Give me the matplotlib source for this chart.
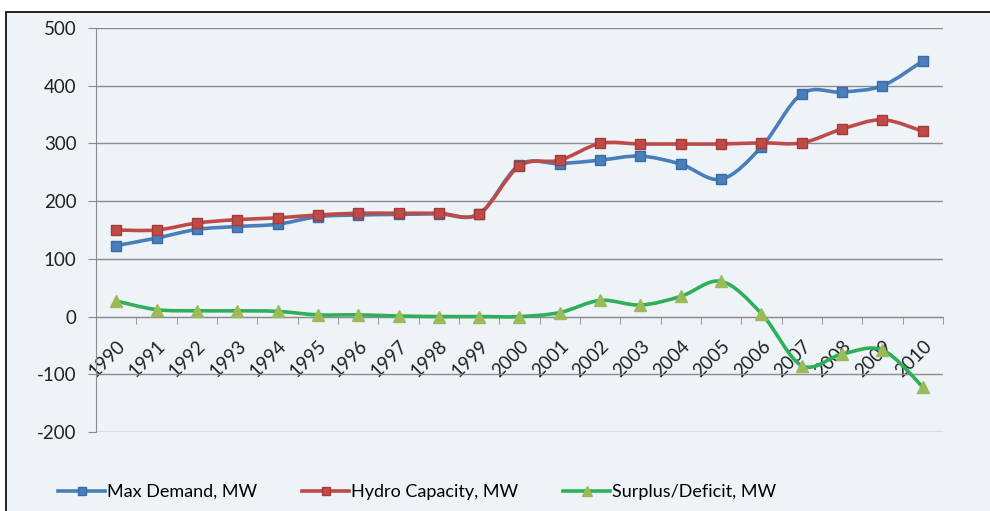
import numpy as np
import matplotlib
matplotlib.use("Agg")
import matplotlib.pyplot as plt
from matplotlib.path import Path
from matplotlib.patches import PathPatch, Rectangle
from matplotlib.lines import Line2D

plt.rcParams['font.family'] = ['Lato', 'DejaVu Sans']
plt.rcParams['font.size'] = 13
plt.rcParams['axes.unicode_minus'] = False

years = [str(y) for y in range(1990, 2011)]
max_demand = [123, 136, 151, 156, 160, 173, 176, 177, 178, 178, 263,
              265, 271, 278, 264, 238, 294, 386, 389, 400, 443]
hydro_capacity = [150, 150, 162, 168, 171, 176, 179, 179, 179, 178, 261,
                  271, 300, 299, 299, 299, 301, 301, 325, 341, 321]
surplus_deficit = [27, 12, 10, 10, 9, 3, 3, 1, 0, 0, 0,
                   7, 28, 20, 35, 61, 5, -85, -65, -58, -122]

blue = "#4A7EBB"
red = "#BE4B48"
green = "#2EAF5A"
green_mk = "#9BBB59"


def smooth_path(x, y):
    # Excel-like smoothed line: Catmull-Rom converted to cubic Bezier
    x = np.asarray(x, float)
    y = np.asarray(y, float)
    pts = np.column_stack([x, y])
    n = len(pts)
    verts = [pts[0]]
    codes = [Path.MOVETO]
    for i in range(n - 1):
        p0 = pts[i - 1] if i > 0 else pts[i]
        p1 = pts[i]
        p2 = pts[i + 1]
        p3 = pts[i + 2] if i + 2 < n else pts[i + 1]
        c1 = p1 + (p2 - p0) / 6.0
        c2 = p2 - (p3 - p1) / 6.0
        verts += [c1, c2, p2]
        codes += [Path.CURVE4] * 3
    return Path(verts, codes)


fig = plt.figure(figsize=(9.9, 5.11), dpi=100)
fig.patch.set_facecolor("white")
fig.add_artist(Rectangle((6 / 990, -0.01), 1.0, 1 - 12 / 511 + 0.01,
                         transform=fig.transFigure, facecolor="#EEF3F8",
                         edgecolor="black", linewidth=1.2, zorder=0))

ax = fig.add_axes([96 / 990, 1 - 432 / 511, (943 - 96) / 990, (432 - 28) / 511])
ax.set_facecolor("none")

x = np.arange(len(years))
series = [
    (max_demand, blue, "s", blue, "#3A6BA5", 6.5, "Max Demand, MW"),
    (hydro_capacity, red, "s", red, "#A53A38", 6.5, "Hydro Capacity, MW"),
    (surplus_deficit, green, "^", green_mk, green_mk, 8.5, "Surplus/Deficit, MW"),
]
handles = []
for vals, lc, mk, mfc, mec, ms, label in series:
    ax.add_patch(PathPatch(smooth_path(x, vals), facecolor="none",
                           edgecolor=lc, linewidth=2.6, zorder=3,
                           capstyle="round", joinstyle="round"))
    ax.plot(x, vals, linestyle="none", marker=mk, markersize=ms,
            markerfacecolor=mfc, markeredgecolor=mec, zorder=4)
    handles.append(Line2D([], [], color=lc, linewidth=2.6, marker=mk,
                          markersize=ms - 1, markerfacecolor=mfc,
                          markeredgecolor=mec, label=label))

ax.set_xlim(-0.5, len(years) - 0.5)
ax.set_ylim(-200, 500)
ax.set_yticks(range(-200, 501, 100))
ax.yaxis.grid(True, color="#8C8C8C", linewidth=1.0)
ax.set_axisbelow(True)

for side in ["top", "right"]:
    ax.spines[side].set_visible(False)
ax.spines["left"].set_color("#8C8C8C")
ax.spines["bottom"].set_position(("data", 0))
ax.spines["bottom"].set_color("#8C8C8C")

ax.set_xticks(x)
ax.set_xticklabels(years, rotation=45, ha="right", rotation_mode="anchor")
ax.set_xticks(np.arange(0.5, len(years) - 0.4, 1.0), minor=True)
ax.tick_params(axis="x", which="major", length=0, pad=15, labelsize=13.5,
               colors="#222222")
ax.tick_params(axis="x", which="minor", length=5, color="#8C8C8C")
ax.tick_params(axis="y", length=6, color="#8C8C8C", labelsize=13.5,
               labelcolor="#222222", pad=8)

fig.legend(handles=handles, loc="center left",
           bbox_to_anchor=(42 / 990, 1 - 492 / 511), ncol=3, frameon=False,
           handlelength=2.6, handletextpad=0.1, columnspacing=2.5,
           fontsize=13)

fig.savefig("out.png", dpi=100, facecolor=fig.get_facecolor())
